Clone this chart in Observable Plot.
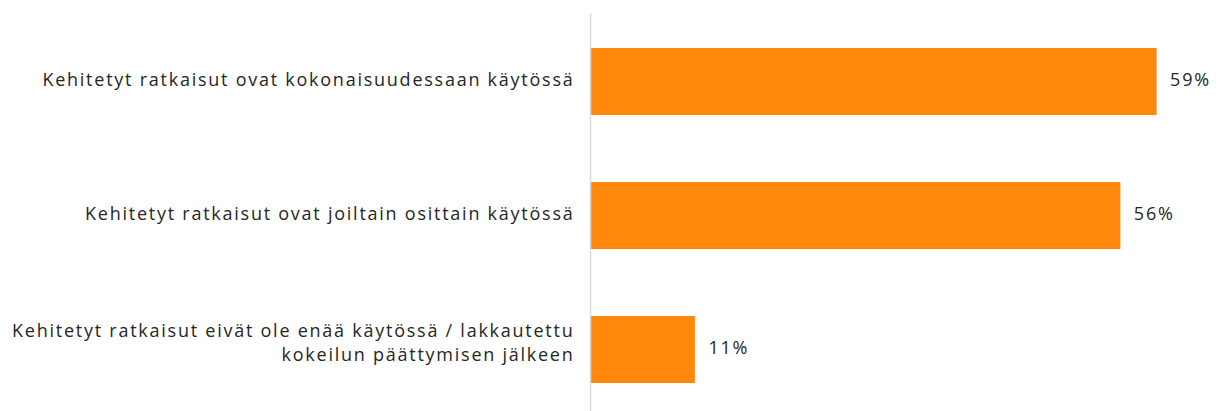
<!DOCTYPE html>
<html>
<head>
<meta charset="utf-8">
<script src="https://cdn.jsdelivr.net/npm/d3@7"></script>
<script src="https://cdn.jsdelivr.net/npm/@observablehq/plot@0.6"></script>
<style>
  html, body { margin: 0; padding: 0; background: #fff; overflow: hidden; }
  #chart svg { display: block; }
  #chart svg text { letter-spacing: 1.75px; }
</style>
</head>
<body>
<div id="chart"></div>
<script>
const categories = [
  "Kehitetyt ratkaisut ovat kokonaisuudessaan käytössä",
  "Kehitetyt ratkaisut ovat joiltain osittain käytössä",
  "Kehitetyt ratkaisut eivät ole enää käytössä / lakkautettu\nkokeilun päättymisen jälkeen"
];
const values = [59.4, 55.6, 11.0];

const data = categories.map((c, i) => ({category: c, value: values[i]}));
const singleLine = data.filter(d => !d.category.includes("\n"));
const multiLine = data.filter(d => d.category.includes("\n"));

const font = "'Open Sans', 'Noto Sans', sans-serif";

const chart = Plot.plot({
  width: 1218,
  height: 416,
  marginTop: 14,
  marginBottom: 0,
  marginLeft: 590,
  marginRight: 8,
  style: {fontFamily: font, fontSize: "18px", color: "#262626", background: "#fff"},
  x: {domain: [0, 65], axis: null},
  y: {domain: categories, axis: null, paddingInner: 0.5, paddingOuter: 0.25},
  marks: [
    Plot.barX(data, {x: "value", y: "category", fill: "#FF880D"}),
    Plot.ruleX([0], {stroke: "#d9d9d9", strokeWidth: 1.5}),
    Plot.text(data, {
      x: "value", y: "category",
      text: d => Math.round(d.value) + "%",
      textAnchor: "start", dx: 13, dy: -2, fill: "#262626", fontSize: 18
    }),
    Plot.text(singleLine, {
      x: 0, y: "category",
      text: "category",
      textAnchor: "end", dx: -16, dy: -2, fill: "#262626", fontSize: 18
    }),
    Plot.text(multiLine, {
      x: 0, y: "category",
      text: "category",
      textAnchor: "end", dx: -16, dy: -9, fill: "#262626", fontSize: 18, lineHeight: 1.33
    })
  ]
});
document.getElementById("chart").appendChild(chart);
</script>
</body>
</html>
